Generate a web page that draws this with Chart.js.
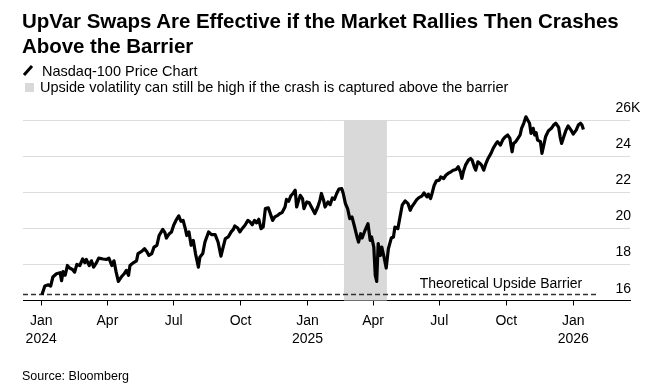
<!DOCTYPE html>
<html>
<head>
<meta charset="utf-8">
<script src="https://cdn.jsdelivr.net/npm/chart.js@4.4.1/dist/chart.umd.min.js"></script>
<style>
    body { margin: 0; background: #fff; }
    #wrap { position: relative; width: 659px; height: 388px; overflow: hidden; font-family: "Liberation Sans", Arial, Helvetica, sans-serif; color: #000; }
    #chart { position: absolute; left: 0; top: 0; }
    .title { position: absolute; left: 22px; top: 9px; font-size: 20.5px; line-height: 24.5px; font-weight: bold; letter-spacing: -0.05px; }
    .legend { position: absolute; font-size: 14.5px; line-height: 16px; white-space: nowrap; }
    .legend .icon-line { position: absolute; left: 22px; top: 69px; width: 12px; height: 3px; background: #000; transform: rotate(-48deg); transform-origin: center; }
    .legend .icon-box { position: absolute; left: 25px; top: 83px; width: 9px; height: 9px; background: #d9d9d9; }
    .source { position: absolute; left: 22px; top: 369px; font-size: 12.5px; line-height: 15px; }
</style>
</head>
<body>
<div id="wrap">
    <canvas id="chart" width="659" height="388"></canvas>
    <div class="title">UpVar Swaps Are Effective if the Market Rallies Then Crashes<br>Above the Barrier</div>
    <div class="legend"><span class="icon-line"></span></div>
    <div class="legend" style="left:42px; top:63px;">Nasdaq-100 Price Chart</div>
    <div class="legend"><span class="icon-box"></span></div>
    <div class="legend" style="left:40px; top:79px;">Upside volatility can still be high if the crash is captured above the barrier</div>
    <div class="source">Source: Bloomberg</div>
</div>
<script>
// x values are days since 1 Jan 2024, y values are index level in thousands
const days = [
    1, 5, 10, 13, 16, 21, 26, 28, 30, 33, 36, 39, 43, 46, 49, 53, 57, 60, 62, 66,
    69, 72, 76, 79, 85, 90, 93, 97, 100, 103, 106, 110, 114, 117, 120, 122, 127, 131, 133, 138,
    142, 145, 148, 152, 155, 159, 162, 167, 170, 172, 176, 179, 182, 186, 189, 192, 195, 198, 200, 203,
    206, 209, 212, 216, 218, 222, 225, 230, 234,
    239, 243, 247, 250, 253, 257, 261, 264, 266, 270, 273, 276, 280, 284, 287, 290, 293, 296, 299, 302,
    305, 308, 312, 314, 318, 321, 325, 328, 331, 335, 337, 340, 343, 346, 349, 351, 353, 356, 359, 361,
    365, 368, 372, 376, 380, 383, 385, 388, 390, 394, 397, 400, 403, 406, 409, 413, 415, 418, 421, 424,
    427, 430, 434, 436, 439, 441, 445, 449, 452, 454, 457, 459, 461, 463, 466, 468, 471, 474, 477, 481, 484,
    486, 490, 493, 496, 500, 504, 507, 509, 513, 516, 519, 523, 526, 530, 532, 535, 537, 540, 543, 547,
    549, 553, 556, 559, 563, 566, 570, 573, 576, 578, 580, 583, 587, 590, 592, 595, 597, 600, 603, 605,
    608, 611, 614, 618, 621, 625, 627, 631, 634, 637, 641, 644, 647, 649, 652, 655, 658, 660, 663, 666,
    669, 671, 673, 676, 678, 680, 682, 686, 688, 691, 693, 697, 701, 704, 707, 711, 713, 715, 718, 721,
    724, 728, 731, 735, 738, 741, 743, 745
];
const nasdaq = [
    16.32, 16.8, 16.87, 16.8, 17.3, 17.48, 17.54, 17.1, 17.6, 17.4, 17.94, 17.8, 17.72, 17.57, 18.0, 17.94, 18.3, 18.1, 18.28, 17.94,
    18.2, 17.85, 18.1, 18.35, 18.3, 18.28, 18.35, 17.94, 18.2, 17.57, 17.06, 17.3, 17.48, 17.67, 17.4, 17.94, 18.1, 18.2, 18.6, 18.72,
    18.87, 18.72, 18.5, 18.6, 18.96, 19.06, 19.6, 19.94, 19.76, 19.46, 19.7, 19.8, 20.17, 20.5, 20.69, 20.39, 20.44, 19.98, 19.6, 19.8,
    19.06, 19.33, 18.6, 17.85, 18.4, 18.6, 19.24, 19.8, 19.65,
    19.65, 19.24, 18.46, 18.96, 19.43, 19.52, 19.8, 19.94, 20.13, 20.02, 19.8, 19.98, 20.17, 20.44, 20.35, 20.2, 20.44, 20.3, 20.5, 19.98,
    20.07, 21.09, 21.13, 20.91, 20.44, 20.63, 20.72, 20.82, 20.87, 21.18, 21.6, 21.5, 21.8, 21.93, 22.11, 21.18, 21.46, 21.83, 21.65, 21.09,
    21.46, 21.43, 21.13, 20.82, 21.18, 21.56, 21.93, 21.56, 21.18, 21.46, 21.31, 21.68, 21.61, 21.93, 22.17, 22.2, 21.93, 21.37, 21.09, 20.54,
    20.63, 20.17, 19.52, 19.24, 19.7, 19.46, 19.89, 20.26, 19.33, 19.52, 18.96, 17.39, 17.06, 19.15, 18.5, 18.96, 18.41, 17.8, 18.87, 19.46, 19.52,
    20.07, 19.98, 20.63, 21.28, 21.52, 21.37, 21.0, 21.18, 21.41, 21.59, 21.7, 21.78, 21.96, 21.74, 21.89, 21.65, 21.93, 22.39, 22.63, 22.67,
    22.85, 22.76, 22.94, 23.04, 23.13, 23.22, 23.26, 23.41, 23.13, 22.76, 23.13, 23.5, 23.78, 23.87, 23.78, 23.41, 23.22, 23.68, 23.59, 23.5,
    23.22, 23.59, 23.87, 24.15, 24.43, 24.7, 24.8, 24.61, 24.89, 25.04, 25.17, 24.98, 24.24, 24.7, 24.8, 24.98, 25.17, 25.54, 25.82, 26.18,
    25.96, 25.82, 25.26, 25.54, 25.17, 25.3, 24.89, 24.8, 24.15, 24.7, 25.07, 25.41, 25.54, 25.72, 25.82, 25.59, 25.07, 24.7, 25.07, 25.44,
    25.67, 25.44, 25.22, 25.44, 25.72, 25.82, 25.72, 25.48
];

const xTickDays = [0, 91, 182, 274, 366, 456, 547, 639, 731];
const xTickLabels = [["Jan", "2024"], ["Apr"], ["Jul"], ["Oct"], ["Jan", "2025"], ["Apr"], ["Jul"], ["Oct"], ["Jan", "2026"]];
const yTicks = [16, 18, 20, 22, 24, 26];

const barrierLevel = 16.33;
const barrierSpan = [-25, 764];
const barrierLabel = "Theoretical Upside Barrier";

const shadeSpan = [416, 475];
const shadeRange = [16, 26];

const FONT = "Liberation Sans, Arial, Helvetica, sans-serif";

const shadePlugin = {
    id: "shade",
    beforeDatasetsDraw(chart) {
        const { ctx, scales: { x, y } } = chart;
        const x0 = x.getPixelForValue(shadeSpan[0]);
        const x1 = x.getPixelForValue(shadeSpan[1]);
        const y0 = y.getPixelForValue(shadeRange[1]);
        const y1 = y.getPixelForValue(shadeRange[0]);
        ctx.save();
        ctx.fillStyle = "#d9d9d9";
        ctx.fillRect(x0, y0, x1 - x0, y1 - y0);
        ctx.restore();
    },
};

const labelsPlugin = {
    id: "labels",
    afterDraw(chart) {
        const { ctx, chartArea, scales: { x, y } } = chart;
        ctx.save();
        ctx.font = "14px " + FONT;
        ctx.fillStyle = "#000";
        ctx.textBaseline = "alphabetic";

        // y tick labels sit above their gridlines, "K" hangs past the numbers
        const right = chartArea.right + 1;
        y.ticks.forEach((t, i) => {
            const py = y.getPixelForValue(t.value) - 8;
            ctx.textAlign = "right";
            ctx.fillText(String(t.value), right, py);
            if (i === y.ticks.length - 1) {
                ctx.textAlign = "left";
                ctx.fillText("K", right, py);
            }
        });

        ctx.textAlign = "right";
        ctx.fillText(barrierLabel, x.getPixelForValue(barrierSpan[1]) - 15, y.getPixelForValue(barrierLevel) - 6.5);
        ctx.restore();
    },
};

function renderChart() {
    new Chart(document.getElementById("chart"), {
        type: "line",
        data: {
            datasets: [
                {
                    label: "Nasdaq-100 Price Chart",
                    data: days.map((d, i) => ({ x: d, y: nasdaq[i] })),
                    borderColor: "#000",
                    borderWidth: 3.2,
                    borderJoinStyle: "round",
                    pointRadius: 0,
                    tension: 0,
                    order: 1,
                },
                {
                    label: barrierLabel,
                    data: barrierSpan.map((d) => ({ x: d, y: barrierLevel })),
                    borderColor: "#333",
                    borderWidth: 1.5,
                    borderDash: [5, 3],
                    pointRadius: 0,
                    order: 2,
                },
            ],
        },
        options: {
            responsive: false,
            animation: false,
            devicePixelRatio: 1,
            layout: { padding: { top: 111, left: 23, right: 0, bottom: 0 } },
            plugins: { legend: { display: false }, tooltip: { enabled: false } },
            scales: {
                x: {
                    type: "linear",
                    min: -25,
                    max: 809,
                    afterBuildTicks: (s) => { s.ticks = xTickDays.map((v) => ({ value: v })); },
                    afterFit: (s) => { s.height = 87.5; },
                    ticks: {
                        autoSkip: false,
                        maxRotation: 0,
                        padding: 7,
                        color: "#000",
                        font: { family: FONT, size: 14, lineHeight: 1.25 },
                        callback: (v, i) => xTickLabels[i],
                    },
                    grid: { drawOnChartArea: false, drawTicks: true, tickLength: 5, color: "#000" },
                    border: { display: true, color: "#000", width: 1 },
                },
                y: {
                    position: "right",
                    min: 16,
                    max: 26.5,
                    afterBuildTicks: (s) => { s.ticks = yTicks.map((v) => ({ value: v })); },
                    afterFit: (s) => { s.width = 29; },
                    ticks: { display: false },
                    grid: { color: "#dcdcdc", lineWidth: 1, drawTicks: false },
                    border: { display: false },
                },
            },
        },
        plugins: [shadePlugin, labelsPlugin],
    });
}

renderChart();
</script>
</body>
</html>
